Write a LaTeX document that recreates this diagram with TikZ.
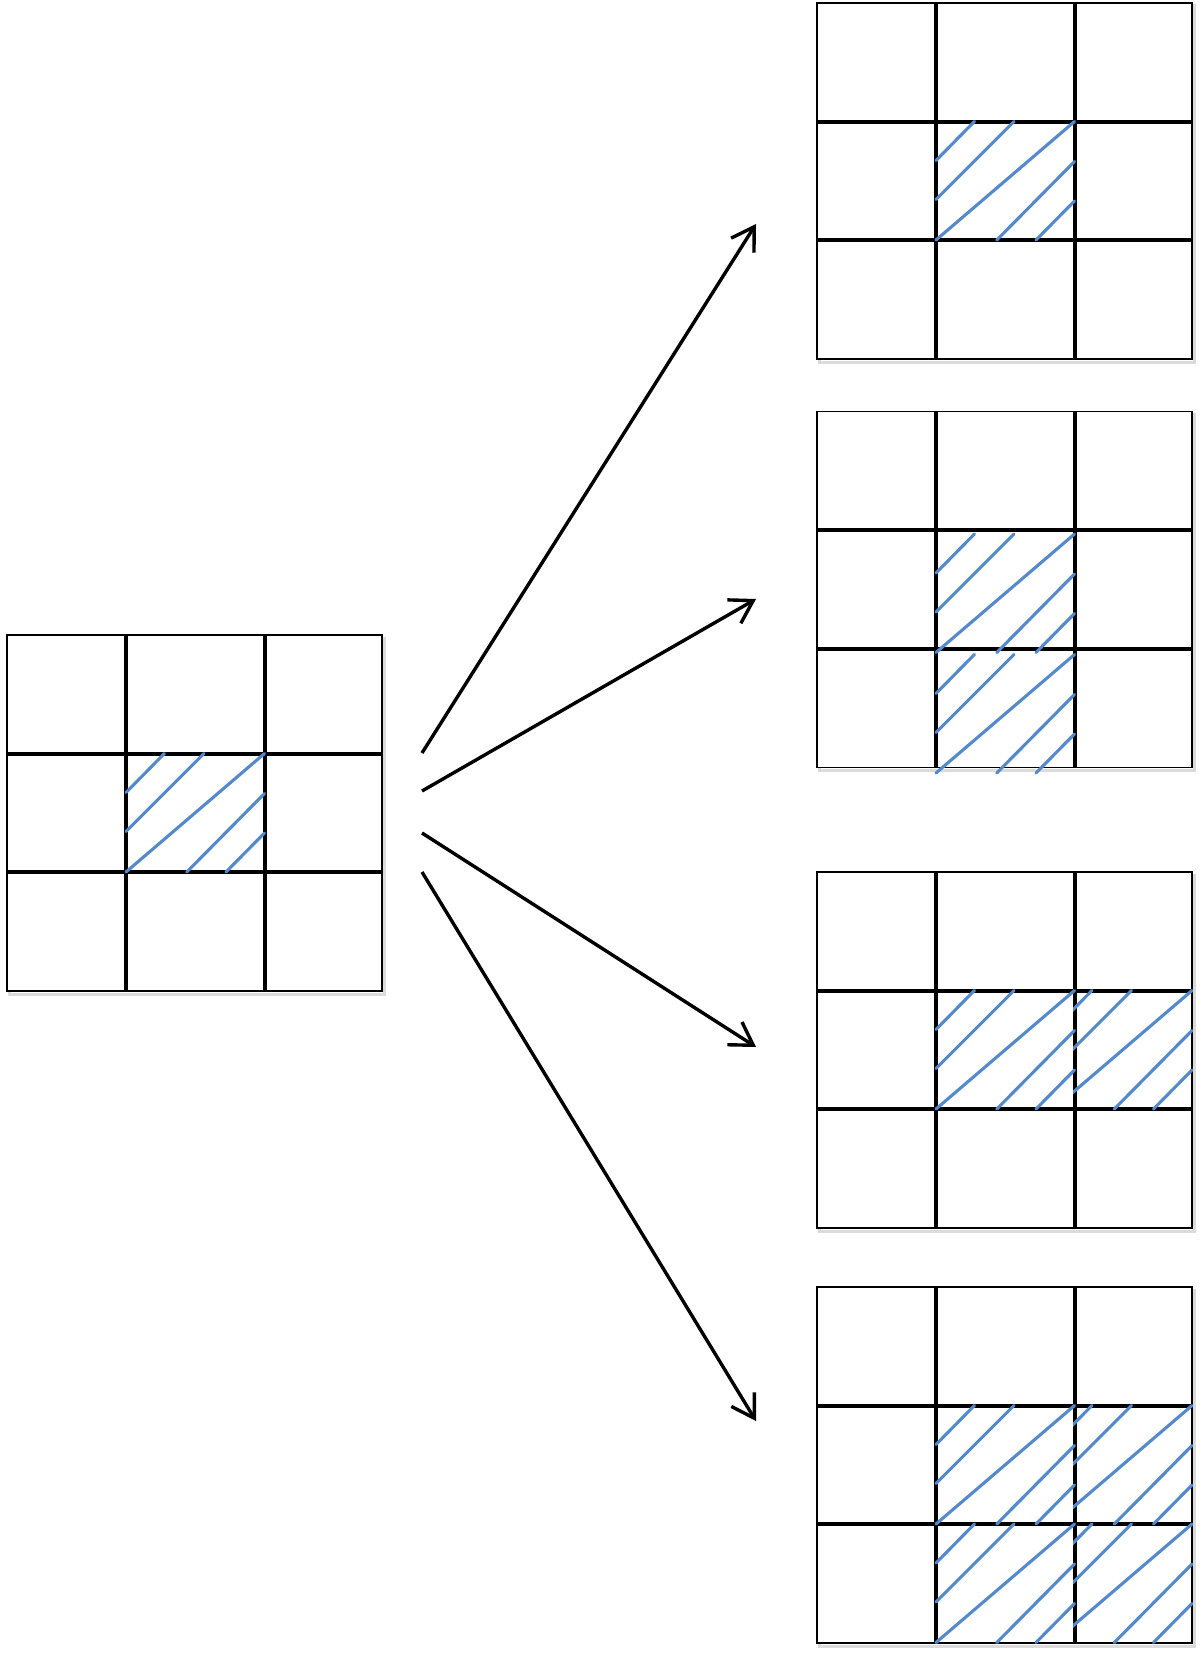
\documentclass[tikz,border=0pt]{standalone}
\usetikzlibrary{arrows.meta}
\definecolor{hatchblue}{RGB}{84,138,204}
\tikzset{
  gridbox/.style={draw=black, line width=1.9pt, minimum width=375pt, minimum height=356pt,
                  inner sep=0pt, outer sep=0pt, fill=white},
  gridline/.style={line width=4pt, black},
  hatchline/.style={line width=3.1pt, hatchblue, line cap=round},
  flow/.style={line width=3.4pt, -{Straight Barb[length=22pt,width=27pt,line width=3.4pt]}},
  shadowline/.style={line width=3pt, black!14},
}
\newcommand{\hatchpat}[2]{%
  \begin{scope}[shift={(#1,#2)}]
    \draw[hatchline] (0,39) -- (38.4,0);
    \draw[hatchline] (0,78) -- (78,0);
    \draw[hatchline] (0,118.5) -- (138.5,0);
    \draw[hatchline] (60.8,118.5) -- (138.5,40);
    \draw[hatchline] (100,118.5) -- (138.5,79.5);
  \end{scope}}
% middle-column cell: x0, cell top y
\newcommand{\midhatch}[2]{\hatchpat{#1+119}{#2}}
% right-column cell: x0, cell top y (pattern aligned right, clipped)
\newcommand{\righthatch}[2]{%
  \begin{scope}
    \clip (#1+256,#2-2) rectangle (#1+377,#2+121);
    \hatchpat{#1+236.5}{#2}
  \end{scope}}
\newcommand{\basegrid}[3]{%
  \draw[shadowline] (#2+2,#3+3) rectangle (#2+377,#3+359);
  \node[gridbox] (#1) at (#2+187.5,#3+178) {};
  \draw[gridline] (#2+119,#3) -- (#2+119,#3+356);
  \draw[gridline] (#2+257.5,#3) -- (#2+257.5,#3+356);
  \draw[gridline] (#2,#3+118.5) -- (#2+375,#3+118.5);
  \draw[gridline] (#2,#3+237) -- (#2+375,#3+237);
}
\begin{document}
\begin{tikzpicture}[x=1pt,y=-1pt]
  \useasboundingbox (0,0) rectangle (1200,1654);

  % source grid
  \basegrid{src}{7}{635}
  \midhatch{7}{753.5}

  % target grid 1
  \basegrid{gA}{817}{3}
  \midhatch{817}{121.5}

  % target grid 2
  \basegrid{gB}{817}{411.5}
  \midhatch{817}{534}
  \midhatch{817}{654.5}

  % target grid 3
  \basegrid{gC}{817}{872}
  \midhatch{817}{990.5}
  \righthatch{817}{990.5}

  % target grid 4
  \basegrid{gD}{817}{1287}
  \midhatch{817}{1405.5}
  \righthatch{817}{1405.5}
  \midhatch{817}{1524}
  \righthatch{817}{1524}

  % connectors
  \coordinate (s1) at (422,753);
  \coordinate (s2) at (422,791);
  \coordinate (s3) at (422,833);
  \coordinate (s4) at (422,872);
  \coordinate (t1) at (756,224);
  \coordinate (t2) at (756,599);
  \coordinate (t3) at (756,1047);
  \coordinate (t4) at (756,1421);
  \draw[flow] (s1) -- (t1);
  \draw[flow] (s2) -- (t2);
  \draw[flow] (s3) -- (t3);
  \draw[flow] (s4) -- (t4);
\end{tikzpicture}
\end{document}
